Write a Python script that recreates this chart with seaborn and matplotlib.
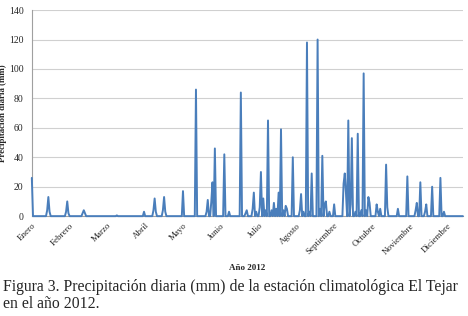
import numpy as np
import pandas as pd
import seaborn as sns
import matplotlib.pyplot as plt

# Días con lluvia (índice del día en 2012, 0 = 1 de enero) y precipitación (mm)
dias_lluvia = [0, 13, 14, 15, 29, 30, 31, 43, 44, 45, 72, 95, 103, 104, 105, 111, 112, 113,
               128, 139, 148, 149, 152, 153, 155, 163, 167, 177, 181, 182, 187, 188, 190,
               193, 194, 196, 198, 200, 203, 205, 207, 209, 211, 213, 215, 216, 221, 227, 228,
               230, 233, 235, 237, 242, 244, 246, 248, 249, 252, 256, 264, 265, 266, 268,
               270, 271, 274, 276, 279, 281, 283, 285, 286, 292, 293, 295, 300, 301, 310,
               318, 325, 326, 329, 333, 334, 339, 346, 349]
lluvia_mm = [26, 4, 13, 3, 3, 10, 2, 2, 4, 2, 0.5, 3, 4, 12, 3, 4, 13, 3,
             17, 86, 3, 11, 10, 23, 46, 42, 3, 84, 2, 4, 5, 16, 3,
             6, 30, 12, 4, 65, 4, 9, 5, 16, 59, 4, 7, 5, 40, 4, 15,
             3, 118, 3, 29, 120, 5, 41, 8, 10, 3, 8, 22, 29, 16, 65,
             8, 53, 3, 56, 4, 97, 4, 13, 9, 8, 3, 5, 35, 6, 5,
             27, 4, 9, 23, 3, 8, 20, 26, 3]

meses = ['Enero', 'Febrero', 'Marzo', 'Abril', 'Mayo', 'Junio', 'Julio', 'Agosto',
         'Septiembre', 'Octubre', 'Noviembre', 'Diciembre']

# Serie diaria completa (366 días, 2012 bisiesto)
serie = np.zeros(366)
serie[dias_lluvia] = lluvia_mm
df = pd.DataFrame({'dia': np.arange(366), 'mm': serie})

sns.set_style('white')
plt.rcParams['font.family'] = ['Liberation Serif', 'DejaVu Serif']

fig = plt.figure(figsize=(4.68, 3.16), dpi=100)
ax = fig.add_axes([0.068, 0.316, 0.921, 0.652])

sns.lineplot(data=df, x='dia', y='mm', ax=ax, color='#4a7ebb', linewidth=1.4, zorder=3)
for ln in ax.lines:
    ln.set_clip_on(False)

ax.set_xlim(0, 365)
ax.set_ylim(0, 140)
ax.set_yticks(range(0, 141, 20))
ax.yaxis.grid(True, color='#d0d0d0', linewidth=0.8)
ax.set_axisbelow(True)

# Etiquetas cada 32 categorías, como en el gráfico original
ax.set_xticks(np.arange(12) * 32)
ax.set_xticklabels(meses, rotation=45, ha='right', rotation_mode='anchor', fontsize=6.5)
ax.tick_params(axis='y', labelsize=7, length=0, pad=6)
ax.tick_params(axis='x', length=0, pad=4)

for s in ['top', 'right']:
    ax.spines[s].set_visible(False)
for s in ['left', 'bottom']:
    ax.spines[s].set_color('#a0a0a0')
    ax.spines[s].set_linewidth(0.8)

ax.set_ylabel('Precipitación diaria (mm)', fontsize=6.4, fontweight='bold')
ax.yaxis.set_label_coords(-0.066, 0.5)
ax.yaxis.label.set_va('center')
ax.set_xlabel('Año 2012', fontsize=6.5, fontweight='bold')
ax.xaxis.set_label_coords(0.5, -0.25)
ax.xaxis.label.set_va('center')

fig.text(0.006, 0.079, 'Figura 3. Precipitación diaria (mm) de la estación climatológica El Tejar',
         fontsize=11.3, va='baseline', ha='left')
fig.text(0.006, 0.025, 'en el año 2012.', fontsize=11.3, va='baseline', ha='left')

fig.savefig('out.png', dpi=100, facecolor='white')
plt.close('all')
